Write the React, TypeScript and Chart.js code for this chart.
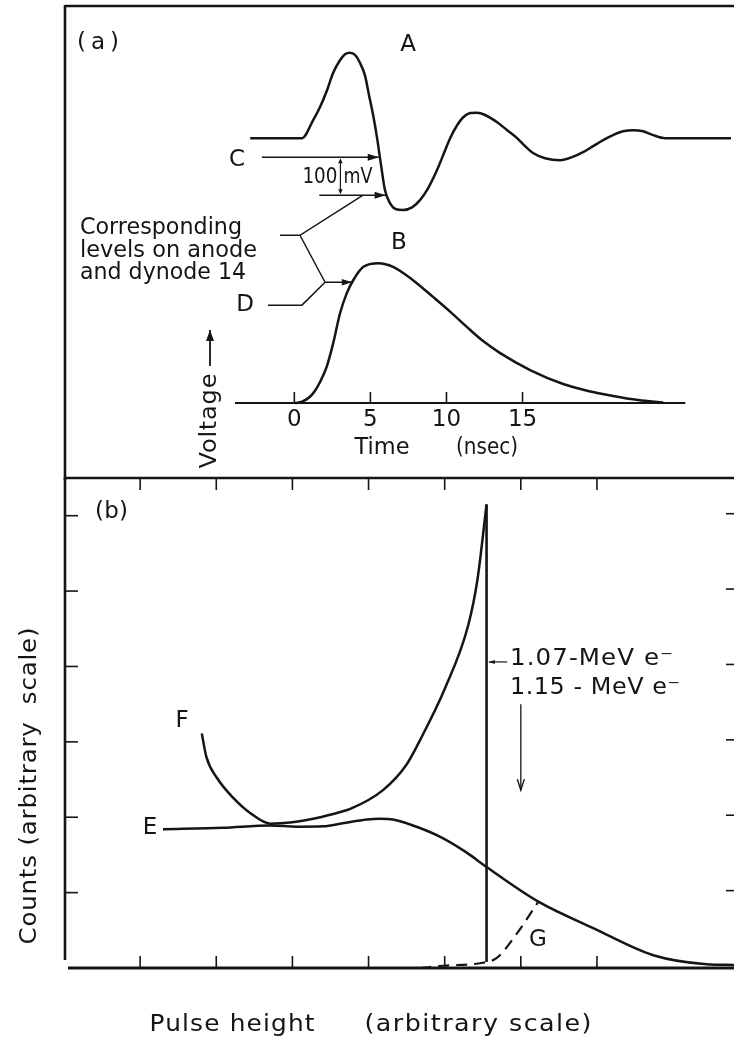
import React, { useEffect, useRef } from 'react';
import { Chart, registerables } from 'chart.js';

Chart.register(...registerables);

// ---------------- Panel (a): pulse shapes against time (nsec) ----------------
const timeTicks = [0, 5, 10, 15];
const timeAxisRange = [-3.9, 25.7];

// Curve A: anode pulse (mV, relative to its own baseline)
const anodeTime = [-2.9, 0.51, 1.23, 1.69, 2.15, 2.54, 3.0, 3.33, 3.66, 3.99, 4.32, 4.65, 4.91, 5.18, 5.44, 5.7, 5.96, 6.29, 6.69, 7.15, 7.74, 8.26, 8.79, 9.38, 9.84, 10.24, 10.7, 11.1, 11.56, 12.02, 12.54, 13.33, 13.99, 14.64, 15.17, 15.69, 16.48, 17.47, 18.26, 18.98, 19.64, 20.3, 20.95, 21.61, 22.26, 22.92, 23.58, 24.37, 28.7];
const anodeMv = [0, 0, 47, 82, 126, 171, 205, 221, 225, 219, 198, 164, 113, 61, 0, -71, -137, -171, -187, -189, -182, -163, -132, -84, -39, 0, 34, 55, 66, 67, 61, 42, 21, 0, -21, -39, -53, -58, -50, -37, -21, -5, 8, 18, 21, 18, 8, 0, 0];

// Curve B: dynode-14 pulse (relative height)
const dynodeTime = [0.05, 0.51, 1.03, 1.36, 1.69, 2.13, 2.56, 3.0, 3.45, 3.88, 4.54, 5.53, 6.49, 7.8, 9.12, 10.24, 11.33, 12.41, 13.53, 15.5, 17.67, 19.31, 20.95, 22.6, 24.24];
const dynodeLevel = [0, 0.01, 0.045, 0.088, 0.15, 0.26, 0.43, 0.64, 0.786, 0.88, 0.974, 1.0, 0.974, 0.879, 0.759, 0.654, 0.545, 0.443, 0.357, 0.236, 0.136, 0.086, 0.05, 0.021, 0.003];

// Discriminator levels on the anode (mV)
const levelC = -50;
const levelLower = -150;
// Corresponding level on the dynode pulse (relative)
const levelD = 0.864;

// ---------------- Panel (b): pulse-height spectra ----------------
const pulseTicks = [1, 2, 3, 4, 5, 6, 7];
const countTicks = [1, 2, 3, 4, 5, 6];

const pulseE = [1.3, 2.09, 2.71, 3.06, 3.41, 3.66, 3.98, 4.15, 4.32, 4.64, 4.98, 5.29, 5.55, 6.23, 6.95, 7.74, 8.44, 8.8];
const countsE = [1.84, 1.86, 1.89, 1.875, 1.88, 1.92, 1.97, 1.98, 1.97, 1.87, 1.72, 1.53, 1.34, 0.88, 0.53, 0.17, 0.05, 0.04];

const pulseF = [1.81, 1.87, 2.01, 2.22, 2.44, 2.71, 2.97, 3.32, 3.63, 3.76, 4.19, 4.5, 4.69, 5.0, 5.31, 5.43, 5.55];
const countsF = [3.11, 2.8, 2.52, 2.26, 2.06, 1.915, 1.93, 1.99, 2.07, 2.11, 2.36, 2.7, 3.05, 3.7, 4.55, 5.15, 6.15];

const pulseFEdge = [5.55, 5.55];
const countsFEdge = [6.15, 0.08];

const pulseG = [4.68, 4.98, 5.5, 5.68, 5.95, 6.23];
const countsG = [0, 0.03, 0.07, 0.13, 0.46, 0.88];

const INK = '#151515';
const FONT = '"DejaVu Sans", "Liberation Sans", sans-serif';

type Pt = [number, number];

function label(
  ctx: CanvasRenderingContext2D,
  text: string,
  cx: number,
  cy: number,
  opts: { size?: number; width?: number; rotate?: boolean; spread?: number } = {}
) {
  const size = opts.size ?? 23;
  ctx.save();
  ctx.font = `${size}px ${FONT}`;
  ctx.fillStyle = INK;
  ctx.textBaseline = 'middle';
  ctx.textAlign = 'left';
  (ctx as any).letterSpacing = '0px';
  const natural = ctx.measureText(text).width;
  const n = Array.from(text).length;
  let w = natural;
  let sx = 1;
  if (opts.width) {
    const extra = opts.width - natural;
    if (extra > 0 && n > 1) {
      const share = opts.spread ?? 0.5;
      const ls = (extra * share) / (n - 1);
      (ctx as any).letterSpacing = `${ls}px`;
      const spaced = natural + ls * (n - 1);
      sx = opts.width / spaced;
      w = spaced;
    } else {
      sx = opts.width / natural;
    }
  }
  ctx.translate(cx, cy);
  if (opts.rotate) ctx.rotate(-Math.PI / 2);
  ctx.scale(sx, 1);
  ctx.fillText(text, -w / 2, 0);
  ctx.restore();
}

function poly(ctx: CanvasRenderingContext2D, pts: Pt[], width = 1.5) {
  ctx.save();
  ctx.strokeStyle = INK;
  ctx.lineWidth = width;
  ctx.lineJoin = 'miter';
  ctx.beginPath();
  pts.forEach(([x, y], i) => (i === 0 ? ctx.moveTo(x, y) : ctx.lineTo(x, y)));
  ctx.stroke();
  ctx.restore();
}

function arrowHead(ctx: CanvasRenderingContext2D, from: Pt, to: Pt, len = 10, half = 3.5, open = false) {
  const ang = Math.atan2(to[1] - from[1], to[0] - from[0]);
  const bx = to[0] - Math.cos(ang) * len;
  const by = to[1] - Math.sin(ang) * len;
  const nx = -Math.sin(ang) * half;
  const ny = Math.cos(ang) * half;
  ctx.save();
  ctx.fillStyle = INK;
  ctx.strokeStyle = INK;
  ctx.lineWidth = 1.4;
  ctx.beginPath();
  ctx.moveTo(bx + nx, by + ny);
  ctx.lineTo(to[0], to[1]);
  ctx.lineTo(bx - nx, by - ny);
  if (open) {
    ctx.stroke();
  } else {
    ctx.closePath();
    ctx.fill();
  }
  ctx.restore();
}

function arrow(ctx: CanvasRenderingContext2D, from: Pt, to: Pt, width = 1.5, len = 10, half = 3.5, open = false) {
  poly(ctx, [from, to], width);
  arrowHead(ctx, from, to, len, half, open);
}

const panelAPlugin = {
  id: 'panelA',
  afterDraw(chart: any) {
    const ctx: CanvasRenderingContext2D = chart.ctx;
    const sx = chart.scales.x;
    const sa = chart.scales.yA;
    const sb = chart.scales.yB;
    const X = (v: number) => sx.getPixelForValue(v);
    const YA = (v: number) => sa.getPixelForValue(v);
    const YB = (v: number) => sb.getPixelForValue(v);

    // frame of panel (a)
    poly(ctx, [[65, 6], [734, 6]], 2.6);
    poly(ctx, [[65, 5], [65, 480]], 2.6);

    // time axis
    const y0 = YB(0);
    poly(ctx, [[X(timeAxisRange[0]), y0], [X(timeAxisRange[1]), y0]], 2.2);
    timeTicks.forEach((t) => {
      poly(ctx, [[X(t), y0], [X(t), y0 - 11]], 1.6);
      label(ctx, String(t), X(t), 420);
    });
    label(ctx, 'Time', 382, 448, { width: 55 });
    label(ctx, '(nsec)', 487, 448, { width: 62 });

    // Voltage label with upward arrow
    label(ctx, 'Voltage', 210, 421, { rotate: true, width: 95 });
    arrow(ctx, [210, 366], [210, 330], 1.8, 11, 4);

    // labels
    label(ctx, '(a)', 98, 43, { width: 42, spread: 1 });
    label(ctx, 'A', 408, 45);
    label(ctx, 'B', 399, 243);
    label(ctx, 'C', 237, 160);
    label(ctx, 'D', 245, 305);

    // discriminator levels
    const yC = YA(levelC);
    const yL = YA(levelLower);
    arrow(ctx, [X(-2.13), yC], [X(5.55), yC], 1.5, 11, 3.5);
    arrow(ctx, [X(1.64), yL], [X(6.0), yL], 1.5, 11, 3.5);
    // 100 mV span
    const xv = X(3.03);
    poly(ctx, [[xv, yC + 4], [xv, yL - 4]], 1.2);
    arrowHead(ctx, [xv, yC + 8], [xv, yC + 1], 5, 2.2);
    arrowHead(ctx, [xv, yL - 8], [xv, yL - 1], 5, 2.2);
    label(ctx, '100', xv - 3 - 17.5, (yC + yL) / 2 + 1, { width: 35, size: 22 });
    label(ctx, 'mV', xv + 3 + 14.5, (yC + yL) / 2 + 1, { width: 29, size: 22 });

    // bracket "Corresponding levels on anode and dynode 14"
    const yBr = YB(1.2);
    const yDa = YB(levelD);
    const yDl = YB(0.7);
    poly(ctx, [[X(-0.94), yBr], [X(0.37), yBr], [X(4.52), yL]], 1.5);
    poly(ctx, [[X(0.37), yBr], [X(2.02), yDa]], 1.5);
    arrow(ctx, [X(2.02), yDa], [X(3.78), yDa], 1.5, 10, 3.3);
    poly(ctx, [[X(-1.73), yDl], [X(0.5), yDl], [X(2.02), yDa]], 1.5);

    label(ctx, 'Corresponding', 161, 228, { width: 162 });
    label(ctx, 'levels on anode', 168.5, 251, { width: 177 });
    label(ctx, 'and dynode 14', 163, 273, { width: 166 });
  },
};

const OFFB = 470;

const panelBPlugin = {
  id: 'panelB',
  afterDraw(chart: any) {
    const ctx: CanvasRenderingContext2D = chart.ctx;
    const sx = chart.scales.x;
    const sy = chart.scales.y;
    const X = (v: number) => sx.getPixelForValue(v);
    const Y = (v: number) => sy.getPixelForValue(v);
    const area = chart.chartArea;
    const top = area.top;
    const bottom = Y(0);
    const left = area.left + 1;
    const right = area.right;

    // frame and axis
    poly(ctx, [[left, top], [right, top]], 2.6);
    poly(ctx, [[left, top - 1], [left, bottom - 8]], 2.6);
    poly(ctx, [[left + 3, bottom], [right, bottom]], 3);

    pulseTicks.forEach((p) => {
      poly(ctx, [[X(p), top], [X(p), top + 12]], 1.6);
      poly(ctx, [[X(p), bottom], [X(p), bottom - 12]], 1.6);
    });
    countTicks.forEach((c) => {
      poly(ctx, [[left, Y(c)], [left + 13, Y(c)]], 1.6);
      poly(ctx, [[right - 8, Y(c) - 2], [right, Y(c) - 2]], 1.6);
    });

    // annotations
    label(ctx, '(b)', 111.5, 512 - OFFB, { width: 33, spread: 1 });
    label(ctx, 'E', 150, 828 - OFFB);
    label(ctx, 'F', 182, 721 - OFFB);
    label(ctx, 'G', 538, 940 - OFFB);

    const yArrow = Y(4.06);
    arrow(ctx, [X(5.82), yArrow], [X(5.58), yArrow], 1.2, 6, 2);
    label(ctx, '1.07-MeV e\u207B', 510 + 81.5, 659 - OFFB, { width: 163 });
    label(ctx, '1.15 - MeV e\u207B', 510 + 85, 688 - OFFB, { width: 170 });
    arrow(ctx, [X(6.0), Y(3.5)], [X(6.0), Y(2.36)], 1.3, 11, 3.5, true);

    label(ctx, 'Counts (arbitrary  scale)', 30, 786 - OFFB, { rotate: true, width: 317 });
    label(ctx, 'Pulse height', 232, 1025 - OFFB, { width: 165 });
    label(ctx, '(arbitrary scale)', 478, 1025 - OFFB, { width: 227 });
  },
};

function lineDs(xs: number[], ys: number[], extra: any = {}) {
  return {
    data: xs.map((x, i) => ({ x, y: ys[i] })),
    borderColor: INK,
    borderWidth: 2.5,
    pointRadius: 0,
    pointHoverRadius: 0,
    fill: false,
    cubicInterpolationMode: 'monotone',
    clip: false,
    ...extra,
  };
}

export default function App() {
  const refA = useRef<HTMLCanvasElement>(null);
  const refB = useRef<HTMLCanvasElement>(null);

  useEffect(() => {
    const chartA = new Chart(refA.current as HTMLCanvasElement, {
      type: 'line',
      data: {
        datasets: [
          lineDs(anodeTime, anodeMv, { label: 'A', xAxisID: 'x', yAxisID: 'yA' }),
          lineDs(dynodeTime, dynodeLevel, { label: 'B', xAxisID: 'x', yAxisID: 'yB' }),
        ] as any,
      },
      options: {
        animation: false,
        responsive: false,
        devicePixelRatio: 1,
        events: [],
        layout: { padding: { left: 235, right: 0, top: 20, bottom: 77 } },
        plugins: { legend: { display: false }, tooltip: { enabled: false } },
        scales: {
          x: { type: 'linear', display: false, min: -3.9, max: 28.9 },
          yA: { type: 'linear', position: 'left', display: false, min: -697, max: 311 },
          yB: { type: 'linear', position: 'left', display: false, min: 0, max: 2.74 },
        },
      } as any,
      plugins: [panelAPlugin],
    });

    const chartB = new Chart(refB.current as HTMLCanvasElement, {
      type: 'line',
      data: {
        datasets: [
          lineDs(pulseE, countsE, { label: 'E' }),
          lineDs(pulseF, countsF, { label: 'F' }),
          lineDs(pulseFEdge, countsFEdge, { label: 'F edge', cubicInterpolationMode: 'default', tension: 0, borderWidth: 2.6 }),
          lineDs(pulseG, countsG, { label: 'G', borderDash: [11, 7], borderWidth: 2.2 }),
        ] as any,
      },
      options: {
        animation: false,
        responsive: false,
        devicePixelRatio: 1,
        events: [],
        layout: { padding: { left: 64, right: 0, top: 8, bottom: 72 } },
        plugins: { legend: { display: false }, tooltip: { enabled: false } },
        scales: {
          x: { type: 'linear', display: false, min: 0, max: 8.8 },
          y: { type: 'linear', display: false, min: 0, max: 6.5 },
        },
      } as any,
      plugins: [panelBPlugin],
    });

    return () => {
      chartA.destroy();
      chartB.destroy();
    };
  }, []);

  return (
    <div style={{ position: 'absolute', left: 0, top: 0, width: 734, height: 1040, background: '#ffffff', overflow: 'hidden' }}>
      <canvas ref={refA} width={734} height={480} style={{ position: 'absolute', left: 0, top: 0, display: 'block' }} />
      <canvas ref={refB} width={734} height={570} style={{ position: 'absolute', left: 0, top: OFFB, display: 'block' }} />
    </div>
  );
}
